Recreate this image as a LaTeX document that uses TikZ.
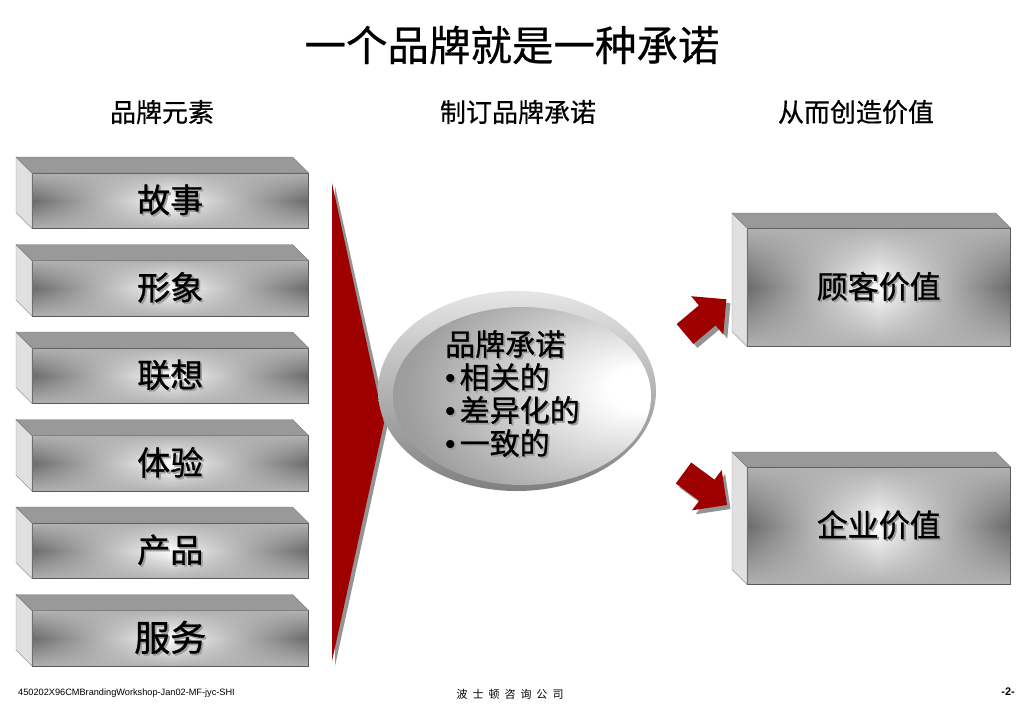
\documentclass[tikz,border=0pt]{standalone}
\usepackage{fontspec}
\setmainfont{Liberation Sans}
\newfontfamily\cjk{Noto Sans CJK SC}
\newfontfamily\cjkb[FakeBold=0.9]{Noto Sans CJK SC}
\newfontfamily\cjkm[FakeBold=0.5]{Noto Sans CJK SC}
\usetikzlibrary{fadings}
\tikzfading[name=tbfade, top color=transparent!0, bottom color=transparent!0, middle color=transparent!100]
\pgfdeclareradialshading{ellsh}{\pgfpoint{25bp}{2bp}}{color(0bp)=(white); color(6bp)=(white); color(35bp)=(black!38); color(70bp)=(black!55)}
\newcommand\shtext[1]{\makebox[0pt][l]{\hspace{1.8pt}\raisebox{-1.8pt}{\color{black!38}#1}}#1}
\tikzset{
  topface/.style={fill=black!40, draw=black!50, line width=0.4pt},
  sideface/.style={fill=black!12, draw=black!40, line width=0.4pt},
  frontface/.style={left color=black!58, right color=black!58, middle color=white, draw=black!65, line width=0.5pt, inner sep=0pt},
  lbl/.style={inner sep=0pt},
  hdr/.style={font=\cjkm\fontsize{26}{30}\selectfont, inner sep=0pt},
  redfill/.style={fill=red!62!black},
  shadowfill/.style={fill=black!42},
}
% #1 name, #2 outer left x, #3 top y, #4 front width, #5 front height, #6 depth, #7 text, #8 font size
\newcommand\mybox[8]{%
  \node[frontface, minimum width=#4pt, minimum height=#5pt, anchor=north west] (#1) at ({#2+#6},{#3+#6}) {};
  \fill[black!30, path fading=tbfade] (#1.north west) rectangle (#1.south east);
  \draw[black!65, line width=0.5pt] (#1.north west) rectangle (#1.south east);
  \filldraw[sideface] (#1.north west) -- ([shift={(-#6,-#6)}]#1.north west) -- ([shift={(-#6,-#6)}]#1.south west) -- (#1.south west) -- cycle;
  \filldraw[topface] (#1.north west) -- ([shift={(-#6,-#6)}]#1.north west) -- ([shift={(-#6,-#6)}]#1.north east) -- (#1.north east) -- cycle;
  \node[lbl, font=\cjkb\fontsize{#8}{#8}\selectfont] (#1t) at (#1.center) {\shtext{#7}};
}
\newcommand\blockarrow{(0,-13) -- (29,-13) -- (29,-25) -- (54,0) -- (29,25) -- (29,13) -- (0,13) -- cycle}
\begin{document}
\begin{tikzpicture}[x=1pt,y=-1pt]
\useasboundingbox (0,0) rectangle (1024,709);
\fill[white] (0,0) rectangle (1024,709);

% title and headers
\node[font=\cjkm\fontsize{41.5}{46}\selectfont, inner sep=0pt] (title) at (512,45) {一个品牌就是一种承诺};
\node[hdr] (h1) at (162,112) {品牌元素};
\node[hdr] (h2) at (518,112) {制订品牌承诺};
\node[hdr] (h3) at (856,112) {从而创造价值};

% left boxes
\mybox{b1}{16}{157}{276}{55}{16}{故事}{33}
\mybox{b2}{16}{244.5}{276}{55}{16}{形象}{33}
\mybox{b3}{16}{332}{276}{55}{16}{联想}{33}
\mybox{b4}{16}{419.5}{276}{55}{16}{体验}{33}
\mybox{b5}{16}{507}{276}{55}{16}{产品}{33}
\mybox{b6}{16}{594.5}{276}{55}{16}{服务}{36}

% right boxes
\mybox{r1}{732}{213}{263}{118}{15}{顾客价值}{31}
\mybox{r2}{732}{452}{263}{117}{15}{企业价值}{31}

% red chevron
\fill[shadowfill] (335,186) -- (388,424) -- (335,666) -- cycle;
\fill[redfill] (332,183) -- (384,423) -- (332,661) -- cycle;

% ellipse
\coordinate (ell) at (517,391);
\shade[top color=black!10, bottom color=black!50] (ell) ellipse [x radius=139, y radius=100];
\shade[shading=ellsh] (522,396) ellipse [x radius=129, y radius=89];
\node[anchor=north west, align=left, font=\cjkb\fontsize{30}{33}\selectfont, text=black!38, inner sep=0pt] (pshadow) at (446.8,331.8)
  {品牌承诺\\{\rmfamily •}\hspace{4pt}相关的\\{\rmfamily •}\hspace{4pt}差异化的\\{\rmfamily •}\hspace{4pt}一致的};
\node[anchor=north west, align=left, font=\cjkb\fontsize{30}{33}\selectfont, inner sep=0pt] (promise) at (445,330)
  {品牌承诺\\{\rmfamily •}\hspace{4pt}相关的\\{\rmfamily •}\hspace{4pt}差异化的\\{\rmfamily •}\hspace{4pt}一致的};

% block arrows
\begin{scope}[shift={(689,338)}, rotate=40]
  \fill[shadowfill] \blockarrow;
\end{scope}
\begin{scope}[shift={(685,334)}, rotate=40]
  \fill[redfill] \blockarrow;
\end{scope}
\begin{scope}[shift={(687,477)}, rotate=-36.3]
  \fill[shadowfill] \blockarrow;
\end{scope}
\begin{scope}[shift={(683.5,473)}, rotate=-36.3]
  \fill[redfill] \blockarrow;
\end{scope}

% footer
\node[anchor=west, font=\fontsize{9.2}{11}\selectfont, inner sep=0pt] (f1) at (18,693) {450202X96CMBrandingWorkshop-Jan02-MF-jyc-SHI};
\node[font=\cjk\fontsize{11}{13}\selectfont, inner sep=0pt] (f3) at (510,694) {波\hspace{5pt}士\hspace{5pt}顿\hspace{5pt}咨\hspace{5pt}询\hspace{5pt}公\hspace{5pt}司};
\node[anchor=east, font=\bfseries\fontsize{11}{13}\selectfont, inner sep=0pt] (f4) at (1015,692) {-2-};
\end{tikzpicture}
\end{document}
